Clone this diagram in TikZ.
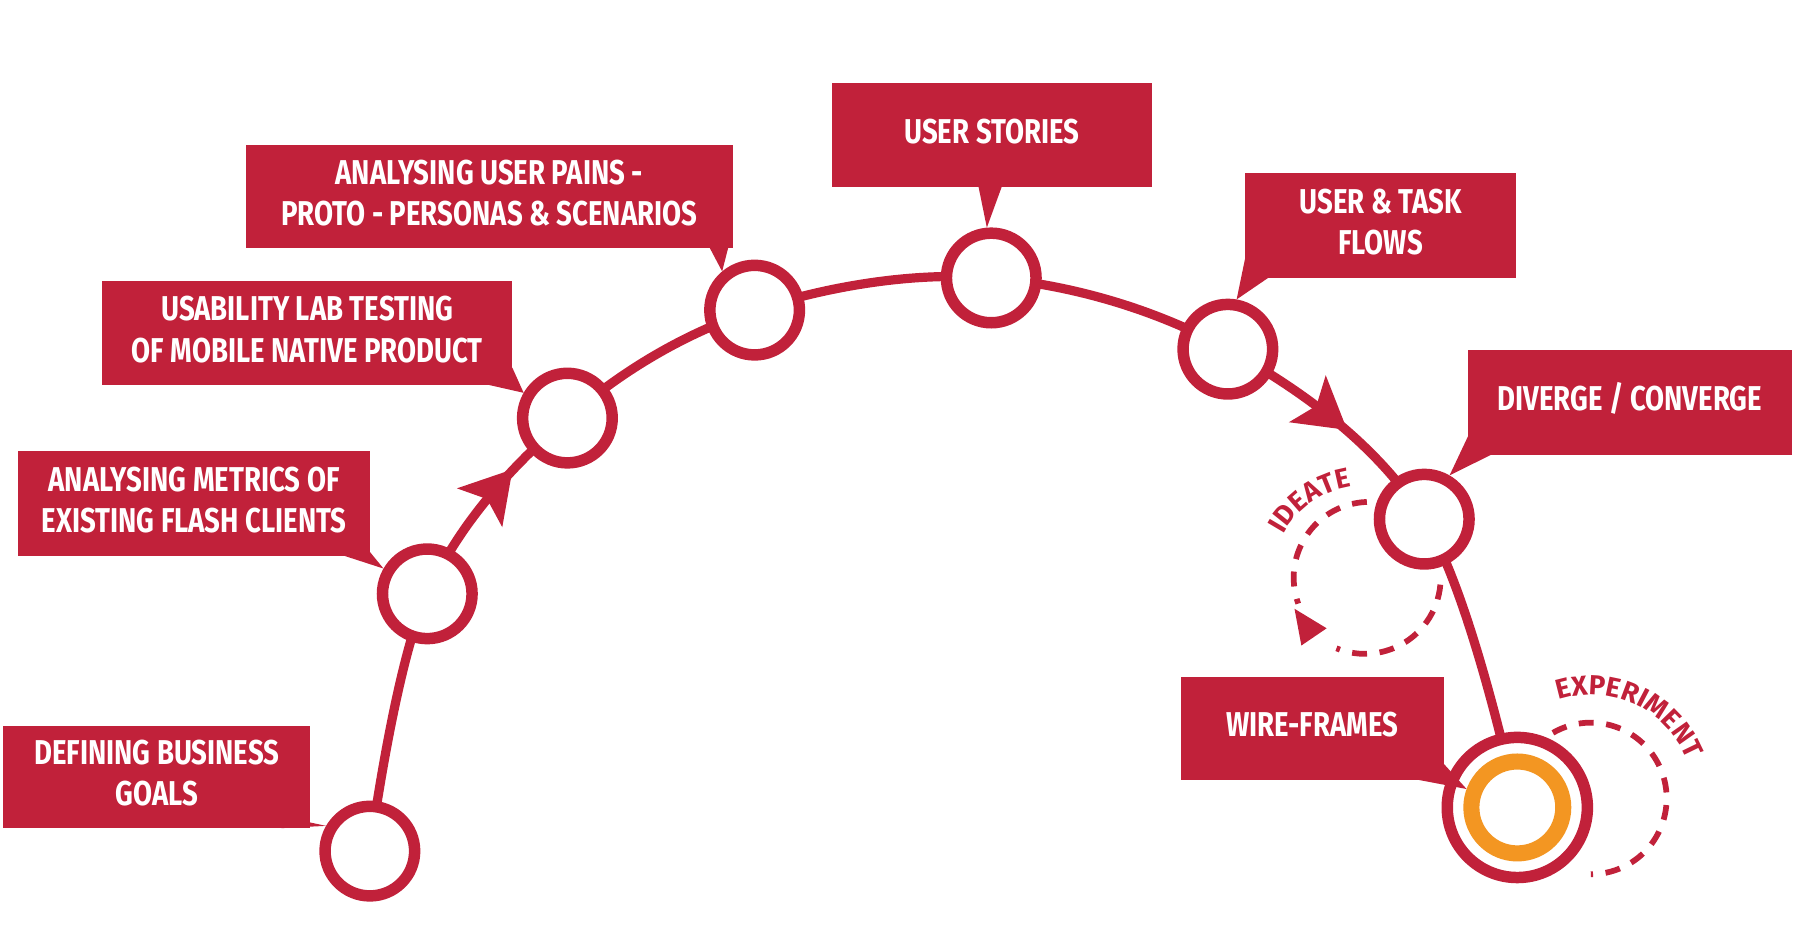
\documentclass[tikz,border=0pt]{standalone}
\usepackage{fontspec}
\usepackage{graphicx}
\setmainfont{Fira Sans}
\usetikzlibrary{decorations.markings,decorations.text,backgrounds}
\definecolor{ured}{HTML}{C1213A}
\definecolor{uorange}{HTML}{F39622}
\newcommand{\lbl}[1]{\scalebox{0.8}[1]{\begin{tabular}{@{}c@{}}#1\end{tabular}}}
\tikzset{
  stage/.style={circle, draw=ured, line width=10pt, fill=white, minimum size=78pt, inner sep=0pt},
  box/.style={fill=ured, text=white, font=\bfseries\fontsize{30}{36}\selectfont, align=center, inner sep=0pt},
  loop/.style={draw=ured, line width=5pt, dash pattern=on 13pt off 11pt}
}
\begin{document}
\begin{tikzpicture}[x=1pt,y=-1pt]
\useasboundingbox (0,0) rectangle (1568,808);

% stages
\node[stage] (c1) at (322,741) {};
\node[stage] (c2) at (372,517) {};
\node[stage] (c3) at (494,364) {};
\node[stage] (c4) at (657,270) {};
\node[stage] (c5) at (863,242) {};
\node[stage] (c6) at (1069,304) {};
\node[stage] (c7) at (1240,452) {};
\node[stage, minimum size=122pt] (c8) at (1321,703) {};
\node[circle, draw=uorange, line width=14pt, minimum size=80pt] (c8in) at (c8) {};

\begin{pgfonlayer}{background}
\draw[ured, line width=8pt, postaction={decorate}, decoration={markings,
  mark=at position 0.22 with {\fill[ured] (-20,-26) -- (24,0) -- (-20,26) -- (-10,0) -- cycle;},
  mark=at position 0.745 with {\fill[ured] (-20,-26) -- (24,0) -- (-20,26) -- (-10,0) -- cycle;}}]
  plot[smooth, tension=0.6] coordinates {(c1) (c2) (c3) (c4) (c5) (c6) (c7) (c8)};
\end{pgfonlayer}

% labels
\node[box, minimum width=267pt, minimum height=89pt] (b1) at (136.5,676.5) {\lbl{DEFINING BUSINESS\\GOALS}};
\fill[ured] (245,721) -- (c1.150) -- (265,715) -- cycle;
\node[box, minimum width=306pt, minimum height=91pt] (b2) at (169,438.5) {\lbl{ANALYSING METRICS OF\\EXISTING FLASH CLIENTS}};
\fill[ured] (300,484) -- (c2.150) -- (320,478) -- cycle;
\node[box, minimum width=357pt, minimum height=90pt] (b3) at (267.5,290) {\lbl{USABILITY LAB TESTING\\OF MOBILE NATIVE PRODUCT}};
\fill[ured] (425,335) -- (c3.150) -- (446,320) -- cycle;
\node[box, minimum width=424pt, minimum height=90pt] (b4) at (426,171) {\lbl{ANALYSING USER PAINS -\\PROTO - PERSONAS \& SCENARIOS}};
\fill[ured] (618,216) -- (c4.130) -- (638,200) -- cycle;
\node[box, minimum width=279pt, minimum height=91pt] (b5) at (863.5,117.5) {\lbl{USER STORIES}};
\fill[ured] (852,163) -- (c5.95) -- (872,163) -- cycle;
\node[box, minimum width=236pt, minimum height=91pt] (b6) at (1202,196.5) {\lbl{USER \& TASK\\FLOWS}};
\fill[ured] (1084,225) -- (c6.80) -- (1104,242) -- cycle;
\node[box, minimum width=282pt, minimum height=91pt] (b7) at (1419,350.5) {\lbl{DIVERGE / CONVERGE}};
\fill[ured] (1278,380) -- (c7.60) -- (1298,396) -- cycle;
\node[box, minimum width=229pt, minimum height=90pt] (b8) at (1142.5,634) {\lbl{WIRE-FRAMES}};
\fill[ured] (1235,679) -- (c8in.160) -- (1257,665) -- cycle;

% loops
\draw[loop] (1190,437) arc[start angle=-92, end angle=-200, radius=66];
\draw[loop] (1254,509) arc[start angle=5, end angle=112, radius=66];
\fill[ured] (1127,530) -- (1133,562) -- (1155,547) -- cycle;
\draw[loop] (1352,638) arc[start angle=-120, end angle=90, radius=66];
\path[decorate, decoration={text along path, text align=center,
  text={|\bfseries\fontsize{24}{24}\selectfont\color{ured}|IDEATE}}]
  (1108,496) arc[start angle=-175, end angle=-75, radius=80];
\path[decorate, decoration={text along path, text align=center,
  text={|\bfseries\fontsize{24}{24}\selectfont\color{ured}|EXPERIMENT}}]
  (1316,637) arc[start angle=-140, end angle=10, radius=90];
\end{tikzpicture}
\end{document}
